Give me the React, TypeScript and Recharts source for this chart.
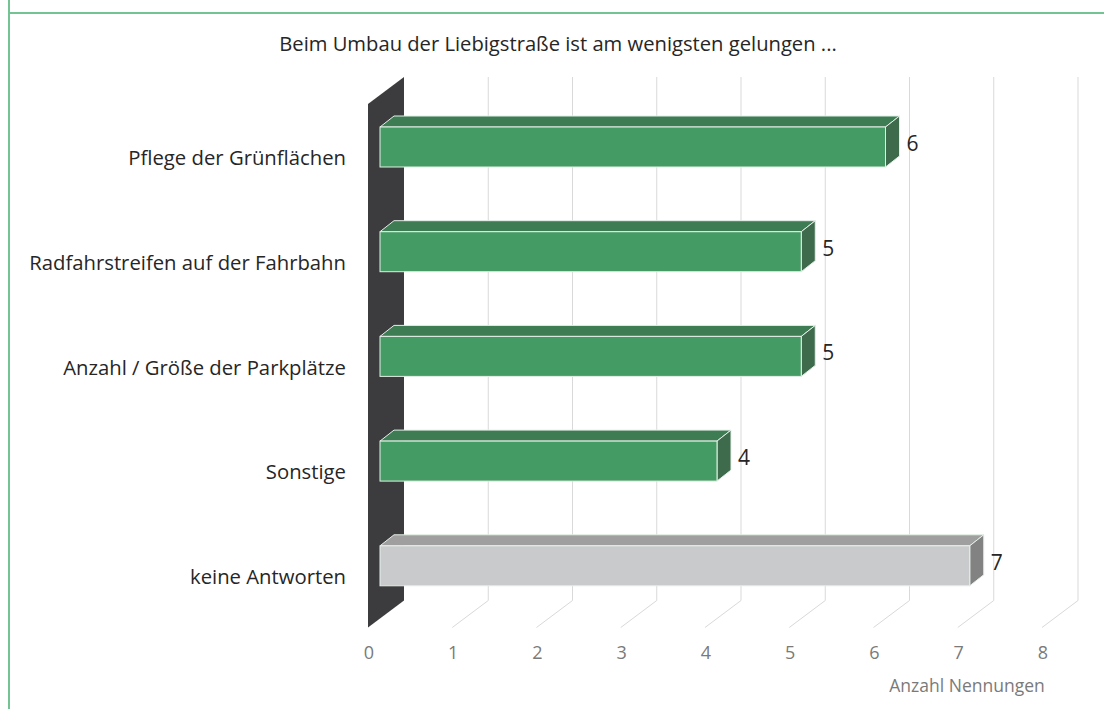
import React from 'react';
import { BarChart, Bar, XAxis, YAxis, CartesianGrid, LabelList } from 'recharts';

const categories = [
  'Pflege der Grünflächen',
  'Radfahrstreifen auf der Fahrbahn',
  'Anzahl / Größe der Parkplätze',
  'Sonstige',
  'keine Antworten',
];
const values = [6, 5, 5, 4, 7];
const isNoAnswer = [false, false, false, false, true];
const xTicks = [0, 1, 2, 3, 4, 5, 6, 7, 8];
const title = 'Beim Umbau der Liebigstraße ist am wenigsten gelungen ...';
const axisTitle = 'Anzahl Nennungen';

const data = categories.map((c, i) => ({ name: c, value: values[i], grey: isNoAnswer[i] }));

const W = 1104;
const H = 709;
const PLOT_LEFT = 368;
const PLOT_TOP = 104;
const PLOT_BOTTOM = 627.5;
const PLOT_RIGHT = 1042;
// depth of the floor/wall
const DX = 36;
const DY = -27;
// bar position inside the depth and its own depth
const BOX = 12;
const BOY = -9;
const BDX = 14;
const BDY = -11;

const FONT = '"Open Sans", "Noto Sans", sans-serif';

const GREEN = { front: '#459b64', top: '#3e7c54', side: '#3e6b4c' };
const GREY = { front: '#c9cacc', top: '#9f9f9f', side: '#828282' };
const EDGE = '#e4efe7';

const Box3D = (props: any) => {
  const { x, y, width, height, payload } = props;
  const c = payload && payload.grey ? GREY : GREEN;
  const fx = x + BOX;
  const fy = y + BOY;
  const w = width;
  const h = height;
  const top = `${fx},${fy} ${fx + BDX},${fy + BDY} ${fx + w + BDX},${fy + BDY} ${fx + w},${fy}`;
  const side = `${fx + w},${fy} ${fx + w + BDX},${fy + BDY} ${fx + w + BDX},${fy + h + BDY} ${fx + w},${fy + h}`;
  return (
    <g>
      <polygon points={top} fill={c.top} stroke={EDGE} strokeWidth={1} strokeLinejoin="round" />
      <polygon points={side} fill={c.side} stroke={EDGE} strokeWidth={1} strokeLinejoin="round" />
      <rect x={fx} y={fy} width={w} height={h} fill={c.front} stroke={EDGE} strokeWidth={1} />
    </g>
  );
};

const GridLine = (props: any) => {
  const { x1, y1, y2 } = props;
  const top = Math.min(y1, y2);
  const bottom = Math.max(y1, y2);
  if (Math.abs(x1 - PLOT_LEFT) < 1) {
    const pts = `${x1},${top} ${x1 + DX},${top + DY} ${x1 + DX},${bottom + DY} ${x1},${bottom}`;
    return <polygon key={props.key} points={pts} fill="#3c3c3e" />;
  }
  return (
    <g key={props.key}>
      <line x1={x1 + DX} y1={top + DY} x2={x1 + DX} y2={bottom + DY} stroke="#d9d9d9" strokeWidth={1} />
      <line x1={x1 + DX} y1={bottom + DY} x2={x1} y2={bottom} stroke="#d9d9d9" strokeWidth={1} />
    </g>
  );
};

const XTick = (props: any) => {
  const { x, payload } = props;
  return (
    <text x={x + 1} y={652} textAnchor="middle" dominantBaseline="central" fill="#7a7a7a" fontSize={18} fontFamily={FONT}>
      {payload.value}
    </text>
  );
};

const YTick = (props: any) => {
  const { y, payload } = props;
  return (
    <text x={PLOT_LEFT - 22} y={y + 1} textAnchor="end" dominantBaseline="central" fill="#262626" fontSize={20.3} fontFamily={FONT}>
      {payload.value}
    </text>
  );
};

const ValueLabel = (props: any) => {
  const { x, y, width, height, value } = props;
  return (
    <text x={x + width + 33} y={y + height / 2 - 13} textAnchor="start" dominantBaseline="central" fill="#262626" fontSize={21} fontFamily={FONT}>
      {value}
    </text>
  );
};

export default function App() {
  return (
    <div style={{ position: 'fixed', left: 0, top: 0, width: W, height: H, background: '#fff', overflow: 'hidden', fontFamily: FONT }}>
      <div style={{ position: 'absolute', left: 8, top: 0, width: 2, height: H, background: '#74c493' }} />
      <div style={{ position: 'absolute', left: 8, top: 12, width: W - 8, height: 2, background: '#74c493' }} />
      <div style={{ position: 'absolute', left: 0, top: 29, width: W, textAlign: 'center', paddingLeft: 12, boxSizing: 'border-box', fontSize: 20.2, color: '#262626', lineHeight: '28px' }}>
        {title}
      </div>
      <div style={{ position: 'absolute', left: 867, top: 672, width: 200, textAlign: 'center', fontSize: 17.5, color: '#7a7a7a', lineHeight: '26px' }}>
        {axisTitle}
      </div>
      <div style={{ position: 'absolute', left: 0, top: 0 }}>
        <BarChart
          width={W}
          height={H}
          data={data}
          layout="vertical"
          margin={{ top: PLOT_TOP, right: W - PLOT_RIGHT, bottom: H - PLOT_BOTTOM - 40, left: PLOT_LEFT - 360 }}
          barSize={40}
        >
          <CartesianGrid horizontal={false} vertical={GridLine as any} />
          <XAxis
            type="number"
            domain={[0, 8]}
            ticks={xTicks}
            axisLine={false}
            tickLine={false}
            tick={XTick}
            height={40}
            interval={0}
          />
          <YAxis
            type="category"
            dataKey="name"
            width={360}
            axisLine={false}
            tickLine={false}
            tick={YTick}
            interval={0}
          />
          <Bar dataKey="value" shape={Box3D} isAnimationActive={false}>
            <LabelList dataKey="value" content={ValueLabel} />
          </Bar>
        </BarChart>
      </div>
    </div>
  );
}
